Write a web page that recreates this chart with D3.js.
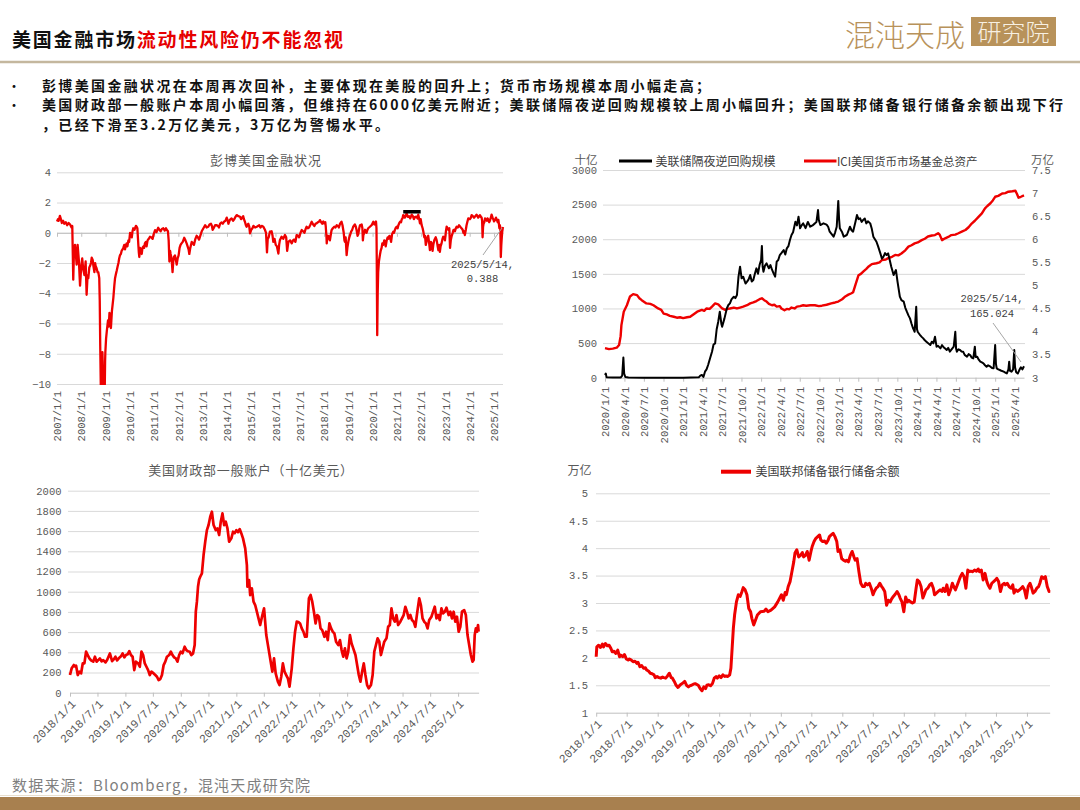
<!DOCTYPE html>
<html>
<head>
<meta charset="utf-8">
<script src="https://cdn.jsdelivr.net/npm/d3@7"></script>
<style>
  body { margin: 0; background: #fff; }
  svg { display: block; }
</style>
</head>
<body>
<svg id="page" width="1080" height="810"></svg>
<script>
// ---- data (dates as decimal years) ----
const fciTicks = [4, 2, 0, -2, -4, -6, -8, -10]
const fciDates = ['2007/1/1','2008/1/1','2009/1/1','2010/1/1','2011/1/1','2012/1/1','2013/1/1','2014/1/1','2015/1/1','2016/1/1','2017/1/1','2018/1/1','2019/1/1','2020/1/1','2021/1/1','2022/1/1','2023/1/1','2024/1/1','2025/1/1']
const fci = [[2007.00,0.75],[2007.04,0.9],[2007.07,0.8],[2007.12,1.12],[2007.16,0.9],[2007.2,0.65],[2007.25,0.8],[2007.3,0.6],[2007.36,0.7],[2007.42,0.5],[2007.48,0.65],[2007.54,0.55],[2007.6,0.35],[2007.63,0.45],[2007.67,-3.1],[2007.7,-1.2],[2007.74,-0.8],[2007.78,-1.5],[2007.81,-2.1],[2007.85,-0.8],[2007.9,-1.8],[2007.95,-3.5],[2008.0,-2.2],[2008.04,-1.7],[2008.08,-2.4],[2008.13,-2.8],[2008.18,-1.9],[2008.22,-4.1],[2008.26,-2.8],[2008.29,-3.0],[2008.33,-2.3],[2008.36,-2.2],[2008.4,-2.0],[2008.43,-1.65],[2008.47,-1.8],[2008.5,-2.2],[2008.54,-2.6],[2008.57,-2.0],[2008.59,-2.2],[2008.63,-2.35],[2008.67,-2.6],[2008.7,-2.6],[2008.74,-3.0],[2008.76,-4.5],[2008.78,-7.5],[2008.81,-11],[2008.85,-11],[2008.87,-7.9],[2008.88,-8.5],[2008.91,-11],[2008.96,-11],[2008.98,-8.5],[2008.99,-7.9],[2009.02,-7.0],[2009.05,-6.5],[2009.1,-5.8],[2009.13,-6.2],[2009.16,-5.3],[2009.19,-5.6],[2009.22,-6.3],[2009.26,-5.2],[2009.32,-4.3],[2009.36,-3.5],[2009.39,-3.0],[2009.43,-2.7],[2009.46,-2.5],[2009.5,-2.2],[2009.53,-2.0],[2009.56,-1.7],[2009.59,-1.5],[2009.63,-1.4],[2009.66,-1.2],[2009.7,-1.1],[2009.73,-1.0],[2009.77,-0.8],[2009.8,-1.1],[2009.84,-0.8],[2009.87,-0.7],[2009.9,-0.9],[2009.94,-0.5],[2009.97,-0.6],[2010.01,0.0],[2010.05,-0.1],[2010.08,-0.3],[2010.11,0.1],[2010.14,0.3],[2010.19,0.2],[2010.25,0.46],[2010.28,0.4],[2010.31,0.3],[2010.35,-0.8],[2010.37,-1.3],[2010.39,-1.6],[2010.42,-1.0],[2010.45,-1.2],[2010.49,-1.4],[2010.52,-1.0],[2010.56,-0.9],[2010.59,-1.0],[2010.62,-0.7],[2010.66,-0.6],[2010.69,-0.9],[2010.73,-0.5],[2010.78,-0.4],[2010.83,-0.26],[2010.88,-0.3],[2010.94,-0.4],[2010.98,-0.1],[2011.04,0.18],[2011.1,0.05],[2011.17,0.33],[2011.22,0.2],[2011.27,0.1],[2011.32,0.25],[2011.38,0.3],[2011.44,0.15],[2011.49,0.3],[2011.52,0.2],[2011.57,0.1],[2011.6,-0.5],[2011.63,-1.9],[2011.66,-1.2],[2011.68,-1.4],[2011.72,-1.7],[2011.76,-2.6],[2011.79,-1.9],[2011.82,-1.6],[2011.86,-1.5],[2011.9,-1.8],[2011.93,-2.1],[2011.97,-1.7],[2012.01,-1.5],[2012.05,-1.0],[2012.09,-0.8],[2012.13,-0.7],[2012.18,-0.6],[2012.24,-0.33],[2012.29,-0.5],[2012.34,-0.7],[2012.38,-0.9],[2012.42,-1.1],[2012.45,-1.4],[2012.49,-1.0],[2012.55,-0.6],[2012.6,-0.7],[2012.64,-0.8],[2012.7,-0.4],[2012.75,-0.2],[2012.8,-0.3],[2012.85,-0.45],[2012.9,-0.2],[2012.96,0.1],[2013.03,0.3],[2013.1,0.5],[2013.16,0.35],[2013.23,0.4],[2013.28,0.55],[2013.34,0.6],[2013.38,0.45],[2013.41,0.2],[2013.45,0.3],[2013.51,0.5],[2013.58,0.5],[2013.63,0.45],[2013.67,0.35],[2013.72,0.6],[2013.78,0.68],[2013.83,0.6],[2013.89,0.75],[2013.94,0.8],[2013.99,1.0],[2014.03,0.8],[2014.06,0.6],[2014.12,0.85],[2014.19,0.95],[2014.25,0.8],[2014.3,0.9],[2014.35,1.05],[2014.4,1.17],[2014.47,1.1],[2014.54,1.06],[2014.58,0.9],[2014.61,0.95],[2014.67,1.1],[2014.7,0.9],[2014.74,0.73],[2014.78,0.5],[2014.81,0.4],[2014.85,0.55],[2014.88,0.6],[2014.92,0.4],[2014.95,-0.04],[2015.0,0.2],[2015.05,0.3],[2015.09,0.46],[2015.16,0.35],[2015.23,0.4],[2015.28,0.45],[2015.33,0.5],[2015.38,0.35],[2015.43,0.46],[2015.5,0.4],[2015.57,0.18],[2015.61,0.0],[2015.65,-1.3],[2015.68,-0.4],[2015.72,-0.3],[2015.77,0.07],[2015.84,0.1],[2015.88,-0.2],[2015.91,-0.6],[2015.96,-0.4],[2016.01,-0.8],[2016.06,-0.9],[2016.12,-1.37],[2016.15,-0.8],[2016.18,-0.5],[2016.25,-0.26],[2016.32,-0.4],[2016.39,-0.15],[2016.44,-0.3],[2016.48,-1.2],[2016.53,-0.6],[2016.6,-0.5],[2016.67,-0.7],[2016.72,-0.5],[2016.76,-0.45],[2016.82,-0.6],[2016.87,-0.15],[2016.93,-0.2],[2016.97,-0.3],[2017.03,0.0],[2017.08,0.18],[2017.14,0.1],[2017.19,0.0],[2017.24,0.25],[2017.28,0.4],[2017.33,0.3],[2017.38,0.35],[2017.44,0.55],[2017.49,0.73],[2017.55,0.55],[2017.6,0.45],[2017.65,0.6],[2017.69,0.62],[2017.75,0.7],[2017.8,0.75],[2017.83,0.84],[2017.88,0.7],[2017.93,0.6],[2017.97,0.75],[2018.01,0.62],[2018.05,0.7],[2018.07,0.4],[2018.1,-0.3],[2018.11,-0.7],[2018.14,-0.2],[2018.18,-0.2],[2018.21,-0.4],[2018.24,-0.5],[2018.28,-0.1],[2018.31,0.18],[2018.36,0.3],[2018.42,0.4],[2018.47,0.35],[2018.52,0.5],[2018.57,0.45],[2018.61,0.35],[2018.66,0.6],[2018.72,0.73],[2018.76,0.5],[2018.79,0.2],[2018.81,0.0],[2018.84,-0.5],[2018.86,-0.6],[2018.89,-0.3],[2018.91,-0.9],[2018.93,-1.48],[2018.96,-1.0],[2019.0,-0.6],[2019.04,-0.3],[2019.07,-0.15],[2019.12,0.1],[2019.16,0.2],[2019.2,0.4],[2019.27,0.55],[2019.31,0.4],[2019.34,0.18],[2019.38,-0.2],[2019.41,-0.1],[2019.45,0.3],[2019.48,0.5],[2019.55,0.55],[2019.58,0.3],[2019.6,-0.5],[2019.62,-0.15],[2019.66,0.0],[2019.69,0.2],[2019.72,0.1],[2019.75,0.0],[2019.79,0.2],[2019.82,0.3],[2019.89,0.4],[2019.96,0.5],[2020.03,0.73],[2020.07,0.55],[2020.1,0.6],[2020.14,0.75],[2020.16,0.3],[2020.17,-1.5],[2020.19,-6.77],[2020.21,-4.0],[2020.23,-2.6],[2020.26,-1.9],[2020.3,-1.48],[2020.33,-1.2],[2020.37,-1.0],[2020.4,-0.7],[2020.44,-0.8],[2020.48,-0.5],[2020.51,-0.6],[2020.54,-0.9],[2020.58,-0.5],[2020.62,-0.3],[2020.65,-0.4],[2020.69,-0.2],[2020.72,-0.26],[2020.76,-0.6],[2020.8,-0.1],[2020.85,0.07],[2020.88,0.0],[2020.92,0.2],[2020.96,0.35],[2020.99,0.4],[2021.03,0.3],[2021.06,0.5],[2021.1,0.65],[2021.13,0.73],[2021.17,0.7],[2021.2,0.9],[2021.23,0.95],[2021.26,1.17],[2021.3,1.1],[2021.33,1.0],[2021.37,1.15],[2021.4,1.28],[2021.45,1.05],[2021.5,1.1],[2021.55,0.95],[2021.61,1.2],[2021.66,1.1],[2021.7,0.9],[2021.75,1.05],[2021.81,1.06],[2021.85,0.95],[2021.88,1.2],[2021.92,0.9],[2021.95,0.62],[2021.98,0.9],[2022.02,0.5],[2022.06,0.3],[2022.09,0.07],[2022.13,-0.3],[2022.16,-0.2],[2022.19,-0.8],[2022.22,-0.6],[2022.26,-0.3],[2022.29,-0.2],[2022.33,-0.7],[2022.36,-1.15],[2022.4,-0.6],[2022.43,-0.7],[2022.47,-1.2],[2022.5,-0.8],[2022.54,-0.5],[2022.6,-0.3],[2022.64,-0.5],[2022.68,-0.9],[2022.71,-1.15],[2022.74,-0.8],[2022.77,-1.26],[2022.8,-0.9],[2022.84,-0.7],[2022.88,-0.4],[2022.91,-0.26],[2022.95,-0.3],[2022.98,-0.5],[2023.02,0.1],[2023.05,0.4],[2023.09,0.3],[2023.12,0.2],[2023.16,0.3],[2023.19,-1.0],[2023.22,-0.5],[2023.26,-0.2],[2023.3,0.0],[2023.33,0.18],[2023.36,0.2],[2023.39,0.1],[2023.43,0.3],[2023.46,0.4],[2023.51,0.35],[2023.56,0.5],[2023.61,0.4],[2023.67,0.29],[2023.71,0.2],[2023.74,0.0],[2023.77,0.1],[2023.8,-0.15],[2023.84,0.2],[2023.87,0.5],[2023.9,0.7],[2023.94,0.95],[2024.01,0.9],[2024.05,1.0],[2024.08,1.17],[2024.13,1.1],[2024.18,1.0],[2024.23,1.1],[2024.28,1.2],[2024.32,1.1],[2024.35,1.0],[2024.39,1.1],[2024.42,1.17],[2024.46,1.05],[2024.49,1.0],[2024.51,0.8],[2024.53,-0.3],[2024.55,0.4],[2024.57,0.6],[2024.6,0.7],[2024.63,0.95],[2024.66,0.85],[2024.7,0.8],[2024.73,0.95],[2024.76,0.9],[2024.8,0.7],[2024.83,0.8],[2024.87,1.0],[2024.9,1.2],[2024.94,1.0],[2024.97,0.9],[2025.0,0.75],[2025.04,0.84],[2025.08,1.0],[2025.12,0.85],[2025.15,0.7],[2025.18,0.85],[2025.2,0.6],[2025.22,0.3],[2025.24,0.5],[2025.26,0.3],[2025.27,-0.5],[2025.28,-1.6],[2025.3,-0.8],[2025.32,-0.3],[2025.34,0.1],[2025.36,0.3],[2025.37,0.388]]
const fciBar = [[2021.26, 1.39], [2021.98, 1.39]]

const rrpTicks = [0, 500, 1000, 1500, 2000, 2500, 3000]
const iciTicks = [3, 3.5, 4, 4.5, 5, 5.5, 6, 6.5, 7, 7.5]
const rrpDates = ['2020/1/1','2020/4/1','2020/7/1','2020/10/1','2021/1/1','2021/4/1','2021/7/1','2021/10/1','2022/1/1','2022/4/1','2022/7/1','2022/10/1','2023/1/1','2023/4/1','2023/7/1','2023/10/1','2024/1/1','2024/4/1','2024/7/1','2024/10/1','2025/1/1','2025/4/1']
const rrp = [[2020.0,40],[2020.01,60],[2020.02,5],[2020.1,2],[2020.2,2],[2020.22,30],[2020.235,290],[2020.245,60],[2020.26,10],[2020.3,2],[2020.5,0],[2020.8,0],[2021.0,1],[2021.1,2],[2021.2,5],[2021.22,30],[2021.24,40],[2021.26,10],[2021.28,87],[2021.3,120],[2021.32,183],[2021.35,300],[2021.37,375],[2021.39,480],[2021.41,496],[2021.43,700],[2021.45,809],[2021.47,953],[2021.49,780],[2021.5,737],[2021.53,857],[2021.56,1001],[2021.58,1050],[2021.6,1074],[2021.62,1130],[2021.65,1170],[2021.67,1150],[2021.69,1194],[2021.71,1459],[2021.73,1604],[2021.75,1435],[2021.77,1459],[2021.8,1360],[2021.82,1387],[2021.84,1420],[2021.86,1483],[2021.88,1390],[2021.9,1411],[2021.92,1500],[2021.94,1579],[2021.96,1500],[2021.98,1627],[2022.0,1700],[2022.01,1904],[2022.02,1600],[2022.03,1531],[2022.05,1620],[2022.07,1651],[2022.1,1580],[2022.12,1627],[2022.14,1560],[2022.16,1507],[2022.18,1460],[2022.2,1676],[2022.22,1700],[2022.24,1772],[2022.26,1800],[2022.29,1844],[2022.31,1780],[2022.33,1868],[2022.35,1900],[2022.37,1989],[2022.39,2061],[2022.41,2100],[2022.44,2253],[2022.46,2200],[2022.48,2326],[2022.5,2157],[2022.52,2200],[2022.54,2229],[2022.57,2160],[2022.6,2250],[2022.63,2181],[2022.66,2200],[2022.69,2229],[2022.71,2250],[2022.73,2422],[2022.74,2280],[2022.76,2205],[2022.8,2230],[2022.84,2210],[2022.86,2180],[2022.88,2109],[2022.9,2080],[2022.93,2037],[2022.95,2100],[2022.97,2181],[2022.99,2554],[2023.0,2300],[2023.01,2157],[2023.04,2100],[2023.06,2037],[2023.08,2050],[2023.1,2061],[2023.12,2120],[2023.14,2181],[2023.16,2130],[2023.18,2109],[2023.21,2250],[2023.23,2350],[2023.25,2290],[2023.27,2302],[2023.29,2250],[2023.31,2278],[2023.33,2300],[2023.35,2229],[2023.37,2260],[2023.4,2229],[2023.42,2150],[2023.44,2037],[2023.46,2000],[2023.48,1964],[2023.5,1900],[2023.53,1796],[2023.55,1720],[2023.57,1748],[2023.59,1800],[2023.61,1772],[2023.63,1796],[2023.65,1700],[2023.67,1603],[2023.7,1483],[2023.73,1555],[2023.75,1387],[2023.78,1170],[2023.8,1120],[2023.83,1098],[2023.85,1010],[2023.87,953],[2023.89,900],[2023.91,857],[2023.93,780],[2023.95,713],[2023.97,664],[2023.99,1025],[2024.0,700],[2024.01,660],[2024.04,616],[2024.06,590],[2024.08,568],[2024.1,540],[2024.12,520],[2024.14,500],[2024.17,472],[2024.19,520],[2024.21,496],[2024.23,592],[2024.25,448],[2024.27,460],[2024.3,424],[2024.32,470],[2024.34,440],[2024.36,420],[2024.38,400],[2024.4,430],[2024.42,376],[2024.45,420],[2024.47,448],[2024.49,664],[2024.5,420],[2024.51,376],[2024.53,410],[2024.55,400],[2024.57,380],[2024.59,376],[2024.61,330],[2024.64,303],[2024.66,340],[2024.68,327],[2024.7,290],[2024.72,279],[2024.74,448],[2024.75,300],[2024.77,303],[2024.79,260],[2024.81,231],[2024.83,220],[2024.85,207],[2024.87,180],[2024.89,159],[2024.91,180],[2024.94,159],[2024.96,140],[2024.98,135],[2025.0,473],[2025.01,200],[2025.02,135],[2025.04,120],[2025.06,111],[2025.08,100],[2025.11,87],[2025.13,75],[2025.15,63],[2025.17,120],[2025.18,231],[2025.19,100],[2025.21,87],[2025.23,120],[2025.245,400],[2025.255,150],[2025.27,80],[2025.29,60],[2025.31,110],[2025.33,150],[2025.35,120],[2025.37,165]]
const ici = [[2020.0,3.64],[2020.05,3.62],[2020.1,3.63],[2020.15,3.65],[2020.18,3.71],[2020.2,3.9],[2020.21,4.14],[2020.24,4.43],[2020.28,4.57],[2020.32,4.76],[2020.36,4.81],[2020.41,4.79],[2020.44,4.72],[2020.47,4.68],[2020.53,4.61],[2020.58,4.6],[2020.62,4.57],[2020.68,4.5],[2020.72,4.47],[2020.75,4.39],[2020.79,4.37],[2020.83,4.34],[2020.88,4.32],[2020.92,4.3],[2020.96,4.31],[2021.0,4.29],[2021.05,4.31],[2021.09,4.32],[2021.14,4.38],[2021.18,4.43],[2021.24,4.47],[2021.27,4.45],[2021.3,4.5],[2021.34,4.49],[2021.37,4.54],[2021.41,4.61],[2021.45,4.59],[2021.5,4.5],[2021.54,4.47],[2021.57,4.49],[2021.6,4.5],[2021.65,4.52],[2021.69,4.5],[2021.73,4.52],[2021.77,4.54],[2021.82,4.57],[2021.86,4.61],[2021.9,4.63],[2021.94,4.66],[2021.98,4.7],[2022.01,4.72],[2022.04,4.68],[2022.07,4.65],[2022.1,4.6],[2022.14,4.57],[2022.17,4.58],[2022.2,4.54],[2022.24,4.55],[2022.26,4.5],[2022.3,4.46],[2022.33,4.49],[2022.36,4.48],[2022.39,4.52],[2022.43,4.5],[2022.46,4.54],[2022.5,4.55],[2022.54,4.57],[2022.58,4.56],[2022.63,4.57],[2022.69,4.57],[2022.74,4.55],[2022.78,4.56],[2022.84,4.58],[2022.9,4.61],[2022.95,4.63],[2022.99,4.65],[2023.04,4.7],[2023.08,4.76],[2023.12,4.8],[2023.16,4.83],[2023.18,4.85],[2023.21,5.01],[2023.25,5.22],[2023.28,5.25],[2023.31,5.3],[2023.35,5.36],[2023.38,5.41],[2023.42,5.46],[2023.48,5.48],[2023.52,5.5],[2023.55,5.55],[2023.6,5.56],[2023.63,5.59],[2023.68,5.62],[2023.72,5.66],[2023.76,5.65],[2023.8,5.69],[2023.85,5.76],[2023.89,5.84],[2023.93,5.87],[2023.97,5.91],[2024.01,5.93],[2024.06,5.98],[2024.1,6.01],[2024.14,6.06],[2024.19,6.08],[2024.23,6.09],[2024.27,6.13],[2024.29,6.1],[2024.32,5.98],[2024.36,6.02],[2024.4,6.05],[2024.44,6.09],[2024.49,6.1],[2024.53,6.13],[2024.58,6.17],[2024.62,6.2],[2024.66,6.26],[2024.7,6.34],[2024.74,6.4],[2024.79,6.49],[2024.83,6.56],[2024.87,6.67],[2024.9,6.72],[2024.94,6.78],[2024.97,6.84],[2025.0,6.92],[2025.04,6.94],[2025.09,6.99],[2025.13,7.0],[2025.17,7.03],[2025.22,7.04],[2025.26,7.05],[2025.28,6.98],[2025.3,6.9],[2025.33,6.92],[2025.37,6.95]]

const tgaTicks = [0, 200, 400, 600, 800, 1000, 1200, 1400, 1600, 1800, 2000]
const halfYearDates = ['2018/1/1','2018/7/1','2019/1/1','2019/7/1','2020/1/1','2020/7/1','2021/1/1','2021/7/1','2022/1/1','2022/7/1','2023/1/1','2023/7/1','2024/1/1','2024/7/1','2025/1/1']
const tga = [[2018.0,175],[2018.03,241],[2018.07,274],[2018.09,260],[2018.11,267],[2018.14,175],[2018.17,208],[2018.2,191],[2018.23,290],[2018.26,290],[2018.29,406],[2018.32,373],[2018.35,340],[2018.38,320],[2018.42,307],[2018.45,356],[2018.48,307],[2018.51,323],[2018.54,340],[2018.57,310],[2018.6,323],[2018.64,300],[2018.67,323],[2018.72,389],[2018.76,313],[2018.79,330],[2018.82,356],[2018.85,320],[2018.88,340],[2018.92,360],[2018.95,389],[2018.98,350],[2019.01,373],[2019.04,380],[2019.07,412],[2019.1,373],[2019.13,356],[2019.16,224],[2019.19,307],[2019.23,290],[2019.26,257],[2019.29,406],[2019.32,373],[2019.35,290],[2019.38,257],[2019.41,224],[2019.44,175],[2019.47,208],[2019.51,191],[2019.54,175],[2019.57,158],[2019.6,125],[2019.63,135],[2019.66,175],[2019.69,274],[2019.72,307],[2019.75,356],[2019.79,373],[2019.82,406],[2019.85,373],[2019.88,350],[2019.91,340],[2019.94,307],[2019.97,373],[2020.0,406],[2020.03,390],[2020.07,455],[2020.1,422],[2020.13,410],[2020.16,406],[2020.19,373],[2020.22,389],[2020.25,472],[2020.27,802],[2020.29,901],[2020.31,1049],[2020.33,1120],[2020.35,1148],[2020.38,1181],[2020.41,1363],[2020.44,1495],[2020.47,1610],[2020.5,1660],[2020.53,1742],[2020.56,1792],[2020.59,1660],[2020.63,1610],[2020.66,1627],[2020.69,1561],[2020.72,1693],[2020.75,1775],[2020.78,1660],[2020.81,1693],[2020.84,1627],[2020.87,1495],[2020.91,1528],[2020.94,1594],[2020.97,1580],[2021.0,1610],[2021.03,1590],[2021.06,1620],[2021.09,1577],[2021.12,1528],[2021.16,1429],[2021.19,1264],[2021.2,1049],[2021.23,1115],[2021.25,967],[2021.28,1033],[2021.31,901],[2021.34,868],[2021.37,802],[2021.4,736],[2021.43,670],[2021.47,769],[2021.5,835],[2021.52,703],[2021.54,571],[2021.58,439],[2021.62,307],[2021.65,208],[2021.68,340],[2021.71,191],[2021.75,109],[2021.78,76],[2021.81,158],[2021.84,290],[2021.87,208],[2021.9,175],[2021.93,142],[2021.96,60],[2022.0,241],[2022.03,439],[2022.06,604],[2022.09,703],[2022.12,700],[2022.15,686],[2022.18,637],[2022.21,604],[2022.24,554],[2022.27,554],[2022.31,934],[2022.34,967],[2022.37,901],[2022.4,802],[2022.43,686],[2022.46,769],[2022.49,752],[2022.52,637],[2022.55,620],[2022.59,554],[2022.62,604],[2022.65,521],[2022.68,686],[2022.71,637],[2022.74,604],[2022.77,587],[2022.8,505],[2022.84,472],[2022.87,521],[2022.9,422],[2022.93,356],[2022.96,439],[2022.99,340],[2023.02,406],[2023.05,571],[2023.08,488],[2023.11,439],[2023.15,373],[2023.18,274],[2023.21,175],[2023.24,109],[2023.27,208],[2023.3,290],[2023.33,175],[2023.36,76],[2023.39,43],[2023.43,76],[2023.46,175],[2023.49,406],[2023.52,472],[2023.55,538],[2023.58,505],[2023.61,373],[2023.64,439],[2023.67,505],[2023.71,538],[2023.74,653],[2023.77,670],[2023.8,835],[2023.83,736],[2023.86,703],[2023.89,769],[2023.92,670],[2023.96,703],[2023.99,736],[2024.02,769],[2024.05,851],[2024.08,802],[2024.11,736],[2024.14,769],[2024.17,719],[2024.2,703],[2024.23,653],[2024.27,818],[2024.3,934],[2024.33,868],[2024.36,736],[2024.39,703],[2024.42,686],[2024.45,637],[2024.48,719],[2024.52,752],[2024.55,802],[2024.58,851],[2024.61,736],[2024.64,769],[2024.67,719],[2024.7,835],[2024.73,785],[2024.76,802],[2024.79,842],[2024.83,769],[2024.86,802],[2024.89,736],[2024.92,802],[2024.95,703],[2024.98,752],[2025.01,604],[2025.04,653],[2025.07,802],[2025.11,818],[2025.14,769],[2025.17,571],[2025.2,472],[2025.23,373],[2025.26,307],[2025.28,323],[2025.3,571],[2025.32,637],[2025.34,604],[2025.36,670],[2025.37,604]]

const resTicks = [1, 1.5, 2, 2.5, 3, 3.5, 4, 4.5, 5]
const reserves = [[2018.0,2.02],[2018.01,2.2],[2018.04,2.23],[2018.07,2.19],[2018.1,2.25],[2018.12,2.2],[2018.15,2.26],[2018.18,2.22],[2018.21,2.23],[2018.24,2.17],[2018.26,2.11],[2018.29,2.12],[2018.32,2.08],[2018.35,2.14],[2018.38,2.02],[2018.4,2.05],[2018.43,2.02],[2018.46,2.06],[2018.49,1.98],[2018.52,1.96],[2018.54,1.98],[2018.57,1.96],[2018.6,1.93],[2018.63,1.94],[2018.66,1.9],[2018.68,1.92],[2018.71,1.84],[2018.74,1.86],[2018.77,1.81],[2018.8,1.82],[2018.82,1.78],[2018.85,1.76],[2018.88,1.72],[2018.91,1.71],[2018.94,1.69],[2018.96,1.64],[2018.99,1.66],[2019.02,1.64],[2019.05,1.63],[2019.08,1.65],[2019.1,1.64],[2019.13,1.63],[2019.16,1.67],[2019.19,1.72],[2019.22,1.64],[2019.24,1.63],[2019.27,1.57],[2019.3,1.5],[2019.33,1.46],[2019.36,1.5],[2019.38,1.52],[2019.41,1.54],[2019.44,1.57],[2019.47,1.5],[2019.5,1.47],[2019.52,1.49],[2019.55,1.5],[2019.58,1.52],[2019.61,1.53],[2019.66,1.5],[2019.69,1.44],[2019.72,1.4],[2019.75,1.47],[2019.78,1.44],[2019.8,1.5],[2019.83,1.51],[2019.86,1.49],[2019.89,1.53],[2019.92,1.63],[2019.95,1.66],[2019.97,1.63],[2020.0,1.67],[2020.03,1.64],[2020.06,1.69],[2020.09,1.66],[2020.11,1.67],[2020.14,1.66],[2020.17,1.69],[2020.19,1.81],[2020.21,2.17],[2020.23,2.54],[2020.25,2.78],[2020.28,3.02],[2020.31,3.15],[2020.34,3.12],[2020.37,3.21],[2020.39,3.28],[2020.42,3.24],[2020.45,3.15],[2020.48,2.9],[2020.51,2.84],[2020.53,2.72],[2020.56,2.6],[2020.59,2.69],[2020.62,2.78],[2020.67,2.84],[2020.73,2.85],[2020.76,2.89],[2020.79,2.84],[2020.84,2.87],[2020.9,2.93],[2020.95,3.02],[2021.01,3.15],[2021.04,3.05],[2021.07,3.19],[2021.09,3.15],[2021.12,3.3],[2021.15,3.39],[2021.18,3.57],[2021.21,3.75],[2021.23,3.91],[2021.26,3.97],[2021.29,3.84],[2021.32,3.87],[2021.35,3.92],[2021.37,3.84],[2021.4,3.87],[2021.43,3.94],[2021.46,3.78],[2021.49,3.94],[2021.51,4.03],[2021.54,4.12],[2021.57,4.18],[2021.6,4.21],[2021.63,4.24],[2021.65,4.15],[2021.68,4.12],[2021.71,4.13],[2021.74,4.09],[2021.77,4.15],[2021.79,4.21],[2021.82,4.24],[2021.85,4.27],[2021.88,4.21],[2021.91,4.12],[2021.93,3.94],[2021.96,3.97],[2021.99,3.81],[2022.02,3.78],[2022.05,3.76],[2022.07,3.78],[2022.1,3.75],[2022.13,3.87],[2022.16,3.94],[2022.19,3.84],[2022.21,3.78],[2022.24,3.81],[2022.27,3.57],[2022.3,3.36],[2022.33,3.3],[2022.36,3.3],[2022.38,3.36],[2022.41,3.33],[2022.44,3.36],[2022.47,3.27],[2022.5,3.15],[2022.52,3.21],[2022.55,3.27],[2022.58,3.3],[2022.61,3.36],[2022.64,3.3],[2022.66,3.27],[2022.69,3.21],[2022.72,2.96],[2022.75,3.05],[2022.78,3.02],[2022.8,3.07],[2022.83,3.12],[2022.86,3.16],[2022.89,3.21],[2022.92,3.15],[2022.94,3.09],[2022.97,3.02],[2023.0,2.84],[2023.02,3.02],[2023.03,3.11],[2023.06,3.02],[2023.08,3.05],[2023.11,3.02],[2023.14,3.0],[2023.17,3.02],[2023.2,3.27],[2023.22,3.42],[2023.25,3.39],[2023.28,3.3],[2023.31,3.09],[2023.34,3.18],[2023.36,3.24],[2023.39,3.27],[2023.42,3.33],[2023.45,3.36],[2023.48,3.27],[2023.5,3.15],[2023.53,3.18],[2023.56,3.21],[2023.59,3.24],[2023.62,3.21],[2023.64,3.27],[2023.67,3.21],[2023.7,3.33],[2023.73,3.15],[2023.76,3.24],[2023.79,3.36],[2023.81,3.3],[2023.84,3.24],[2023.87,3.33],[2023.9,3.42],[2023.92,3.48],[2023.95,3.54],[2023.98,3.48],[2024.01,3.27],[2024.04,3.6],[2024.07,3.57],[2024.09,3.58],[2024.12,3.57],[2024.15,3.6],[2024.18,3.58],[2024.21,3.62],[2024.23,3.57],[2024.26,3.6],[2024.29,3.42],[2024.32,3.54],[2024.35,3.39],[2024.37,3.33],[2024.4,3.27],[2024.43,3.36],[2024.46,3.39],[2024.49,3.42],[2024.51,3.45],[2024.54,3.39],[2024.57,3.21],[2024.6,3.33],[2024.63,3.36],[2024.65,3.33],[2024.68,3.36],[2024.71,3.3],[2024.74,3.27],[2024.77,3.33],[2024.79,3.18],[2024.82,3.24],[2024.85,3.21],[2024.88,3.24],[2024.91,3.27],[2024.93,3.3],[2024.96,3.24],[2024.99,3.09],[2025.02,3.3],[2025.05,3.36],[2025.07,3.3],[2025.1,3.18],[2025.13,3.21],[2025.16,3.27],[2025.19,3.3],[2025.21,3.36],[2025.24,3.48],[2025.27,3.45],[2025.3,3.48],[2025.33,3.3],[2025.36,3.21],[2025.37,3.22]]

const bullets = [
	'彭博美国金融状况在本周再次回补，主要体现在美股的回升上；货币市场规模本周小幅走高；',
	'美国财政部一般账户本周小幅回落，但维持在6000亿美元附近；美联储隔夜逆回购规模较上周小幅回升；美国联邦储备银行储备余额出现下行',
	'，已经下滑至3.2万亿美元，3万亿为警惕水平。'
]

// ---- helpers ----
const svg = d3.select('#page')
const RED = '#ee0000', GRID = '#d9d9d9', AXIS = '#bfbfbf', LABEL = '#595959'
const cjk = '"Noto Sans CJK SC", "Noto Sans", sans-serif'
const mono = '"Liberation Mono", "DejaVu Sans Mono", monospace'
const parseTick = d3.timeParse('%Y/%m/%d')

// decimal year -> Date
const toDate = v => {
	const yr = Math.floor(v), a = new Date(yr, 0, 1), b = new Date(yr + 1, 0, 1)
	return new Date(+a + (v - yr) * (b - a))
}

function grid(y, vals, x0, x1) {
	const g = svg.append('g').attr('transform', `translate(${x0},0)`)
		.call(d3.axisRight(y).tickValues(vals).tickSize(x1 - x0).tickFormat(''))
	g.select('.domain').remove()
	g.selectAll('line').attr('stroke', GRID)
}

function yLabels(y, vals, xPos, side, size) {
	const ax = side === 'left' ? d3.axisLeft(y) : d3.axisRight(y)
	const g = svg.append('g').attr('transform', `translate(${xPos},0)`)
		.call(ax.tickValues(vals).tickSize(0).tickPadding(0).tickFormat(d => String(d).replace('-', '\u2212')))
	g.select('.domain').remove()
	g.selectAll('text').attr('font-family', mono).attr('font-size', size).attr('fill', LABEL)
}

function xAxis(x, labels, yPos, opt) {
	const dates = labels.map(parseTick)
	const g = svg.append('g').attr('transform', `translate(0,${yPos})`)
		.call(d3.axisBottom(x).tickValues(dates).tickSize(4).tickSizeOuter(0).tickFormat((d, i) => labels[i]))
	g.select('.domain').attr('stroke', AXIS)
	g.selectAll('line').attr('stroke', AXIS)
	const t = g.selectAll('text').attr('font-family', mono).attr('font-size', opt.size).attr('fill', LABEL)
		.attr('text-anchor', 'end').attr('dy', '0.35em')
	if (opt.rotate === -90) {
		t.attr('transform', 'rotate(-90)').attr('x', -opt.gap).attr('y', 0)
	} else {
		t.attr('x', 0).attr('y', 0).attr('transform', `translate(3,${opt.gap}) rotate(-45)`)
	}
}

function drawLine(data, x, y, color, width, clip) {
	const line = d3.line().x(d => x(toDate(d[0]))).y(d => y(d[1]))
	const p = svg.append('path').datum(data)
		.attr('fill', 'none').attr('stroke', color).attr('stroke-width', width)
		.attr('stroke-linejoin', 'round').attr('d', line)
	if (clip) p.attr('clip-path', `url(#${clip})`)
}

function label(txt, x, y, size, opts = {}) {
	return svg.append('text').attr('x', x).attr('y', y)
		.attr('font-family', opts.font || cjk).attr('font-size', size)
		.attr('fill', opts.fill || LABEL).attr('text-anchor', opts.anchor || 'start')
		.attr('letter-spacing', opts.ls || 0).attr('font-weight', opts.weight || 'normal')
		.text(txt)
}

// ---- header ----
const title = svg.append('text').attr('x', 12).attr('y', 47)
	.attr('font-family', cjk).attr('font-size', 19).attr('font-weight', 'bold').attr('letter-spacing', 1.8)
title.append('tspan').attr('fill', '#111').text('美国金融市场')
title.append('tspan').attr('fill', '#e60000').text('流动性风险仍不能忽视')

label('混沌天成', 845, 46, 30, { fill: '#b8925a', weight: 300 })
svg.append('rect').attr('x', 971).attr('y', 17).attr('width', 85).attr('height', 29).attr('fill', '#b8925a')
label('研究院', 1013.5, 41, 24, { fill: '#f7f0e3', anchor: 'middle', weight: 300 })
svg.append('line').attr('x1', 0).attr('x2', 1080).attr('y1', 62).attr('y2', 62)
	.attr('stroke', '#c4b79e').attr('stroke-width', 2.5)

const bulletY = [91, 110, 130]
bullets.forEach((b, i) => {
	if (i < 2) label('•', 7, bulletY[i], 14, { fill: '#111' })
	label(b, 42, bulletY[i], 14, { fill: '#111', weight: 'bold', ls: 2.35 })
})

// ---- chart 1: 彭博美国金融状况 ----
{
	const x = d3.scaleTime().domain([toDate(2007), toDate(2025.37)]).range([57, 503])
	const y = d3.scaleLinear().domain([-10, 4]).range([384, 172.3])
	grid(y, fciTicks, 57, 503)
	yLabels(y, fciTicks, 51, 'left', 10.5)
	xAxis(x, fciDates, y(0), { size: 10.5, rotate: -90, gap: 391 - y(0) })
	svg.append('clipPath').attr('id', 'clip1').append('rect')
		.attr('x', 50).attr('y', 150).attr('width', 470).attr('height', y(-10) - 150 + 1)
	drawLine(fci, x, y, RED, 2.3, 'clip1')
	drawLine(fciBar, x, y, '#000', 3.5)
	label('彭博美国金融状况', 266, 165, 13, { anchor: 'middle', ls: 1 })
	svg.append('line').attr('x1', 483).attr('y1', 255).attr('x2', 502).attr('y2', 228)
		.attr('stroke', '#a6a6a6').attr('stroke-width', 1)
	label('2025/5/14,', 482.5, 268, 10.5, { font: mono, anchor: 'middle', fill: '#404040' })
	label('0.388', 482.5, 282, 10.5, { font: mono, anchor: 'middle', fill: '#404040' })
}

// ---- chart 2: 逆回购 & 货币基金 ----
{
	const x = d3.scaleTime().domain([toDate(2020), toDate(2025.37)]).range([605, 1024])
	const yL = d3.scaleLinear().domain([0, 3000]).range([377.7, 170])
	const yR = d3.scaleLinear().domain([3, 7.5]).range([377.7, 170])
	grid(yL, rrpTicks.slice(1), 603, 1025)
	yLabels(yL, rrpTicks, 597, 'left', 10.5)
	yLabels(yR, iciTicks, 1032, 'right', 10.5)
	xAxis(x, rrpDates, yL(0), { size: 10.5, rotate: -90, gap: 9 })
	drawLine(ici, x, yR, RED, 2.4)
	drawLine(rrp, x, yL, '#000', 2)
	label('十亿', 574.5, 164, 11.5)
	label('万亿', 1031, 164, 11.5)
	svg.append('rect').attr('x', 619).attr('y', 159.5).attr('width', 33).attr('height', 3).attr('fill', '#000')
	label('美联储隔夜逆回购规模', 655.5, 165.5, 12, { fill: '#404040' })
	svg.append('rect').attr('x', 804).attr('y', 159.5).attr('width', 32.5).attr('height', 3).attr('fill', RED)
	label('ICI美国货币市场基金总资产', 837, 165.5, 11.5, { fill: '#404040' })
	svg.append('line').attr('x1', 993).attr('y1', 323).attr('x2', 1021).attr('y2', 362)
		.attr('stroke', '#a6a6a6').attr('stroke-width', 1)
	label('2025/5/14,', 992, 302, 10.5, { font: mono, anchor: 'middle', fill: '#404040' })
	label('165.024', 992, 317, 10.5, { font: mono, anchor: 'middle', fill: '#404040' })
}

// ---- chart 3: 财政部一般账户 ----
{
	const x = d3.scaleTime().domain([toDate(2018), toDate(2025.37)]).range([70, 478.6])
	const y = d3.scaleLinear().domain([0, 2000]).range([692.7, 490.7])
	grid(y, tgaTicks.slice(1), 68, 479)
	yLabels(y, tgaTicks, 61.5, 'left', 10.5)
	xAxis(x, halfYearDates, y(0), { size: 11.5, rotate: -45, gap: 9 })
	drawLine(tga, x, y, RED, 2.7)
	label('美国财政部一般账户（十亿美元）', 251, 475, 13, { anchor: 'middle', ls: 0.7 })
}

// ---- chart 4: 储备余额 ----
{
	const x = d3.scaleTime().domain([toDate(2018), toDate(2025.37)]).range([596.2, 1049.7])
	const y = d3.scaleLinear().domain([1, 5]).range([712.7, 493.3])
	grid(y, resTicks.slice(1), 596, 1050)
	yLabels(y, resTicks, 588, 'left', 10.5)
	xAxis(x, halfYearDates, y(1), { size: 11.5, rotate: -45, gap: 9 })
	drawLine(reserves, x, y, RED, 3)
	label('万亿', 567.6, 475, 12)
	svg.append('rect').attr('x', 721).attr('y', 469.7).attr('width', 30).attr('height', 4).attr('fill', RED)
	label('美国联邦储备银行储备余额', 755.5, 476, 12, { fill: '#404040' })
}

// ---- footer ----
label('数据来源：Bloomberg，混沌天成研究院', 12, 791, 15, { fill: '#7f7f7f', ls: 1.2 })
svg.append('line').attr('x1', 0).attr('x2', 1080).attr('y1', 795.5).attr('y2', 795.5)
	.attr('stroke', '#e8dfcf').attr('stroke-width', 1)
svg.append('rect').attr('x', 0).attr('y', 797).attr('width', 1080).attr('height', 13).attr('fill', '#a8804f')
</script>
</body>
</html>
